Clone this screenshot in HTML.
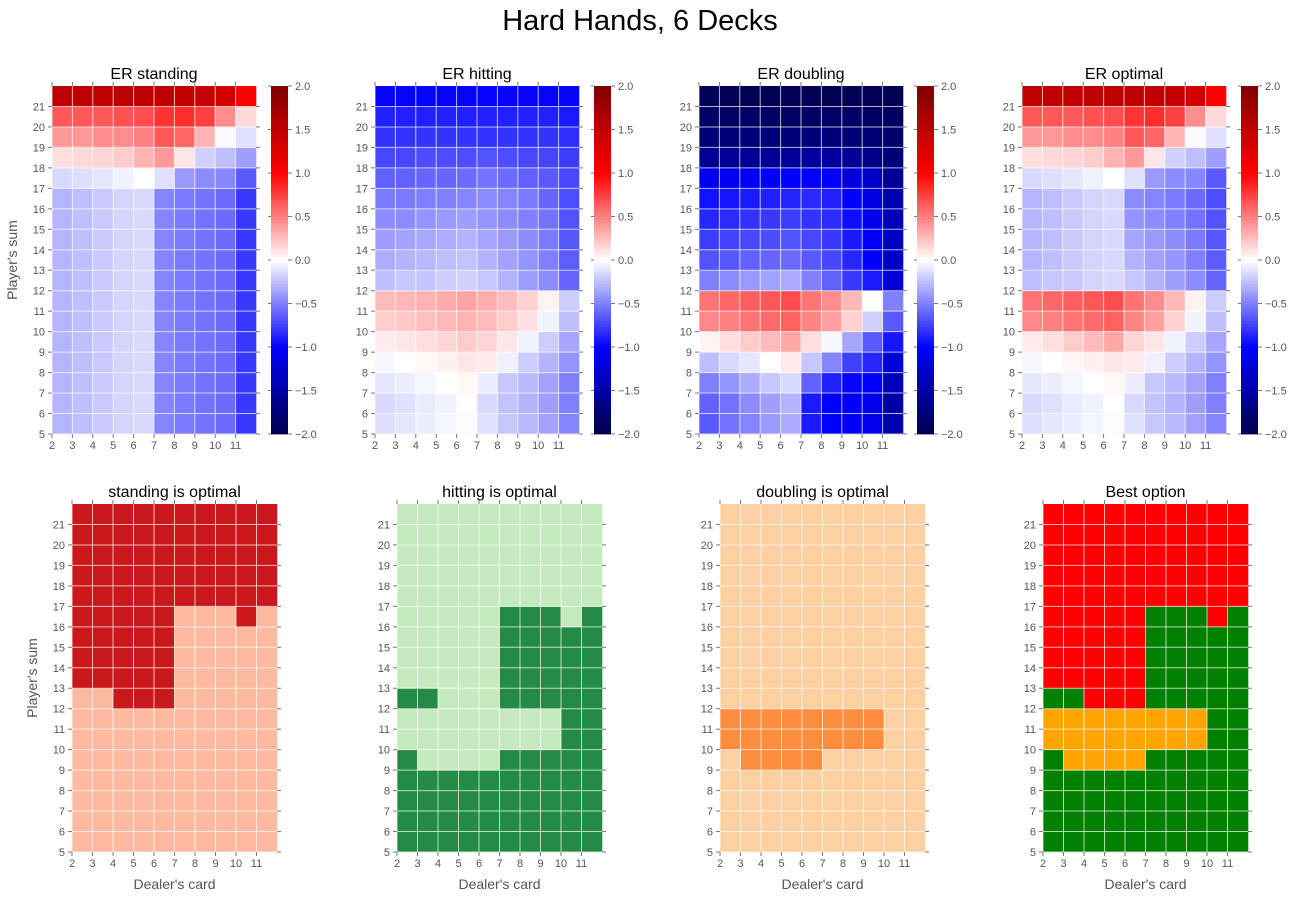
<!DOCTYPE html>
<html><head><meta charset="utf-8"><style>
body{margin:0;background:#fff;}
svg{display:block;font-family:"Liberation Sans",sans-serif;}
</style></head><body>
<svg id="fig" width="1301" height="899" viewBox="0 0 1301 899" xmlns="http://www.w3.org/2000/svg">
<text x="640" y="30" font-size="29" text-anchor="middle" fill="#000">Hard Hands, 6 Decks</text>
</svg>
<script>
const dealerCards = [2,3,4,5,6,7,8,9,10,11];
const playerSums = [5,6,7,8,9,10,11,12,13,14,15,16,17,18,19,20,21];
// rows: player sum 5 .. 21
const erStand = [
[-0.29,-0.25,-0.21,-0.17,-0.15,-0.48,-0.52,-0.55,-0.58,-0.78],
[-0.29,-0.25,-0.21,-0.17,-0.15,-0.48,-0.52,-0.55,-0.58,-0.78],
[-0.29,-0.25,-0.21,-0.17,-0.15,-0.48,-0.52,-0.55,-0.58,-0.78],
[-0.29,-0.25,-0.21,-0.17,-0.15,-0.48,-0.52,-0.55,-0.58,-0.78],
[-0.29,-0.25,-0.21,-0.17,-0.15,-0.48,-0.52,-0.55,-0.58,-0.78],
[-0.29,-0.25,-0.21,-0.17,-0.15,-0.48,-0.52,-0.55,-0.58,-0.78],
[-0.29,-0.25,-0.21,-0.17,-0.15,-0.48,-0.52,-0.55,-0.58,-0.78],
[-0.29,-0.25,-0.21,-0.17,-0.15,-0.48,-0.52,-0.55,-0.58,-0.78],
[-0.29,-0.25,-0.21,-0.17,-0.15,-0.48,-0.52,-0.55,-0.58,-0.78],
[-0.29,-0.25,-0.21,-0.17,-0.15,-0.48,-0.52,-0.55,-0.58,-0.78],
[-0.29,-0.25,-0.21,-0.17,-0.15,-0.48,-0.52,-0.55,-0.58,-0.78],
[-0.29,-0.25,-0.21,-0.17,-0.15,-0.48,-0.52,-0.55,-0.58,-0.78],
[-0.15,-0.13,-0.10,-0.05,0.00,-0.12,-0.40,-0.45,-0.47,-0.65],
[0.13,0.15,0.17,0.20,0.30,0.40,0.10,-0.18,-0.25,-0.38],
[0.40,0.40,0.45,0.45,0.50,0.65,0.60,0.30,-0.02,-0.12],
[0.65,0.65,0.65,0.68,0.70,0.80,0.82,0.75,0.45,0.15],
[1.50,1.50,1.50,1.50,1.50,1.50,1.47,1.45,1.35,1.00]
];
const erHit = [
[-0.13,-0.10,-0.07,-0.04,-0.01,-0.12,-0.22,-0.28,-0.36,-0.48],
[-0.15,-0.12,-0.08,-0.05,0.00,-0.15,-0.24,-0.30,-0.38,-0.50],
[-0.10,-0.07,-0.04,0.00,0.03,-0.07,-0.22,-0.28,-0.36,-0.50],
[-0.03,0.00,0.03,0.06,0.10,0.08,-0.06,-0.20,-0.30,-0.42],
[0.08,0.10,0.13,0.16,0.20,0.17,0.10,-0.05,-0.20,-0.35],
[0.20,0.22,0.25,0.28,0.30,0.27,0.20,0.12,-0.05,-0.25],
[0.27,0.28,0.30,0.33,0.36,0.32,0.26,0.18,0.05,-0.20],
[-0.25,-0.22,-0.23,-0.20,-0.18,-0.22,-0.30,-0.38,-0.45,-0.60],
[-0.32,-0.30,-0.28,-0.26,-0.24,-0.30,-0.36,-0.42,-0.50,-0.64],
[-0.38,-0.36,-0.34,-0.32,-0.30,-0.35,-0.40,-0.45,-0.52,-0.66],
[-0.45,-0.45,-0.42,-0.40,-0.38,-0.42,-0.45,-0.50,-0.55,-0.68],
[-0.52,-0.52,-0.50,-0.50,-0.48,-0.45,-0.48,-0.52,-0.60,-0.70],
[-0.62,-0.62,-0.60,-0.60,-0.58,-0.55,-0.58,-0.62,-0.65,-0.72],
[-0.72,-0.72,-0.70,-0.70,-0.70,-0.68,-0.70,-0.72,-0.73,-0.76],
[-0.80,-0.80,-0.80,-0.80,-0.80,-0.80,-0.80,-0.80,-0.80,-0.82],
[-0.88,-0.88,-0.88,-0.88,-0.88,-0.88,-0.88,-0.88,-0.88,-0.90],
[-0.99,-0.99,-0.99,-0.99,-0.99,-0.99,-0.99,-0.99,-0.99,-0.99]
];
const erDouble = [
[-0.65,-0.55,-0.48,-0.40,-0.33,-0.90,-1.00,-1.05,-1.10,-1.45],
[-0.62,-0.55,-0.45,-0.38,-0.30,-0.90,-1.00,-1.05,-1.10,-1.50],
[-0.50,-0.42,-0.33,-0.22,-0.15,-0.62,-0.88,-0.98,-1.00,-1.40],
[-0.25,-0.15,-0.10,0.00,0.08,-0.22,-0.48,-0.75,-0.85,-1.20],
[0.05,0.13,0.20,0.27,0.35,0.13,-0.03,-0.35,-0.65,-0.92],
[0.47,0.50,0.55,0.58,0.62,0.48,0.38,0.18,-0.18,-0.65],
[0.55,0.60,0.63,0.66,0.70,0.55,0.45,0.28,0.00,-0.50],
[-0.50,-0.45,-0.40,-0.37,-0.33,-0.50,-0.62,-0.78,-0.90,-1.20],
[-0.68,-0.66,-0.62,-0.60,-0.58,-0.65,-0.72,-0.85,-1.00,-1.30],
[-0.76,-0.74,-0.72,-0.70,-0.68,-0.72,-0.78,-0.90,-1.05,-1.35],
[-0.85,-0.83,-0.80,-0.78,-0.76,-0.80,-0.83,-0.95,-1.10,-1.40],
[-0.93,-0.92,-0.90,-0.88,-0.86,-0.84,-0.88,-1.00,-1.15,-1.45],
[-1.10,-1.10,-1.05,-1.00,-1.00,-1.05,-1.00,-1.20,-1.30,-1.60],
[-1.60,-1.60,-1.60,-1.58,-1.58,-1.55,-1.55,-1.60,-1.65,-1.75],
[-1.75,-1.75,-1.75,-1.75,-1.75,-1.75,-1.75,-1.75,-1.78,-1.85],
[-1.85,-1.85,-1.85,-1.85,-1.85,-1.85,-1.85,-1.85,-1.88,-1.90],
[-1.95,-1.95,-1.95,-1.95,-1.95,-1.95,-1.95,-1.95,-1.95,-1.97]
];
const cbTicks = [-2,-1.5,-1,-0.5,0,0.5,1,1.5,2];

const NS = "http://www.w3.org/2000/svg";
const svg = document.getElementById('fig');
function el(tag, attrs, parent){const e=document.createElementNS(NS,tag);for(const k in attrs)e.setAttribute(k,attrs[k]);(parent||svg).appendChild(e);return e;}

function seismic(v){
  const stops=[[-2,0,0,0.3],[-1,0,0,1],[0,1,1,1],[1,1,0,0],[2,0.5,0,0]];
  v=Math.max(-2,Math.min(2,v));
  for(let i=0;i<stops.length-1;i++){const a=stops[i],b=stops[i+1];
    if(v<=b[0]){const t=(v-a[0])/(b[0]-a[0]);
      const c=[1,2,3].map(j=>Math.round(255*(a[j]+(b[j]-a[j])*t)));return `rgb(${c[0]},${c[1]},${c[2]})`;}}
  return 'rgb(128,0,0)';
}

const optimal = erStand.map((row,r)=>row.map((v,c)=>Math.max(v,erHit[r][c],erDouble[r][c])));
const best = erStand.map((row,r)=>row.map((v,c)=>{const h=erHit[r][c],d=erDouble[r][c];if(v>=h&&v>=d)return 0;if(h>=d)return 1;return 2;}));

function axes(name,x0,y0,w,h,title,fill,showY,showX){
  const g=el('g',{});
  
  
  const nC=dealerCards.length,nR=playerSums.length,cw=w/nC,ch=h/nR;
  const xs=c=>x0+c*cw, ys=r=>y0+h-(r+1)*ch;
  for(let r=0;r<nR;r++)for(let c=0;c<nC;c++){
    const rc=el('rect',{x:xs(c),y:ys(r),width:cw+0.3,height:ch+0.3,fill:fill(r,c)},g);
    
    
  }
  for(let c=0;c<nC;c++)el('line',{x1:xs(c),x2:xs(c),y1:y0,y2:y0+h,stroke:'#fff','stroke-opacity':0.7,'stroke-width':1},g);
  for(let r=0;r<nR;r++)el('line',{x1:x0,x2:x0+w,y1:y0+h-r*ch,y2:y0+h-r*ch,stroke:'#fff','stroke-opacity':0.7,'stroke-width':1},g);
  for(let c=0;c<nC;c++){
    el('line',{x1:xs(c),x2:xs(c),y1:y0+h,y2:y0+h+4,stroke:'#777'},g);
    el('line',{x1:xs(c),x2:xs(c),y1:y0,y2:y0-4,stroke:'#777'},g);
    const t=el('text',{x:xs(c),y:y0+h+15,'font-size':11,fill:'#555','text-anchor':'middle'},g);
    t.textContent=dealerCards[c];
    
    
  }
  for(let r=0;r<nR;r++){
    const yy=y0+h-r*ch;
    el('line',{x1:x0,x2:x0-4,y1:yy,y2:yy,stroke:'#777'},g);
    el('line',{x1:x0+w,x2:x0+w+4,y1:yy,y2:yy,stroke:'#777'},g);
    const t=el('text',{x:x0-7,y:yy+4,'font-size':11,fill:'#555','text-anchor':'end'},g);
    t.textContent=playerSums[r];
    
    
  }
  const tt=el('text',{x:x0+w/2,y:y0-7,'font-size':16,fill:'#000','text-anchor':'middle'},g);
  tt.textContent=title;
  
  
  if(showY){const t=el('text',{x:0,y:0,'font-size':14,fill:'#555','text-anchor':'middle',transform:`translate(${x0-35},${y0+h/2}) rotate(-90)`},g);
    t.textContent="Player's sum";
    
    }
  if(showX){const t=el('text',{x:x0+w/2,y:y0+h+37,'font-size':14,fill:'#555','text-anchor':'middle'},g);
    t.textContent="Dealer's card";
    
    }
}

function colorbar(x0,y0,w,h){
  const g=el('g',{});
  
  
  const n=120;
  for(let i=0;i<n;i++){const v=-2+4*(i+0.5)/n;
    el('rect',{x:x0,y:y0+h-(i+1)*h/n,width:w,height:h/n+0.4,fill:seismic(v)},g);}
  for(const v of cbTicks){const yy=y0+h-(v+2)/4*h;
    el('line',{x1:x0+w,x2:x0+w+4,y1:yy,y2:yy,stroke:'#777'},g);
    el('line',{x1:x0,x2:x0-3,y1:yy,y2:yy,stroke:'#777'},g);
    const t=el('text',{x:x0+w+7,y:yy+4,'font-size':11,fill:'#555'},g);
    t.textContent=(v<0?'\u2212':'')+Math.abs(v).toFixed(1);
    
    }
}

const topX=[52,375,699,1022], cbX=[271,594,917,1241], botX=[72,397,720,1043];
const topData=[erStand,erHit,erDouble,optimal];
const topTitles=['ER standing','ER hitting','ER doubling','ER optimal'];
const topNames=['er-standing-heatmap','er-hitting-heatmap','er-doubling-heatmap','er-optimal-heatmap'];
for(let i=0;i<4;i++){
  const d=topData[i];
  axes(topNames[i],topX[i],86,204,348,topTitles[i],(r,c)=>seismic(d[r][c]),i===0,false);
  colorbar(cbX[i],86,17,348);
}
const twoTone=[['#fcbba1','#cb181d'],['#c7e9c0','#238b45'],['#fdd0a2','#fd8d3c']];
const botTitles=['standing is optimal','hitting is optimal','doubling is optimal'];
const botNames=['standing-optimal-map','hitting-optimal-map','doubling-optimal-map'];
for(let k=0;k<3;k++){
  axes(botNames[k],botX[k],504,205,348,botTitles[k],(r,c)=>twoTone[k][best[r][c]===k?1:0],k===0,true);
}
const bestColors=['#ff0000','#008000','#ffa500'];
axes('best-option-map',botX[3],504,205,348,'Best option',(r,c)=>bestColors[best[r][c]],false,true);
</script>
</body></html>
